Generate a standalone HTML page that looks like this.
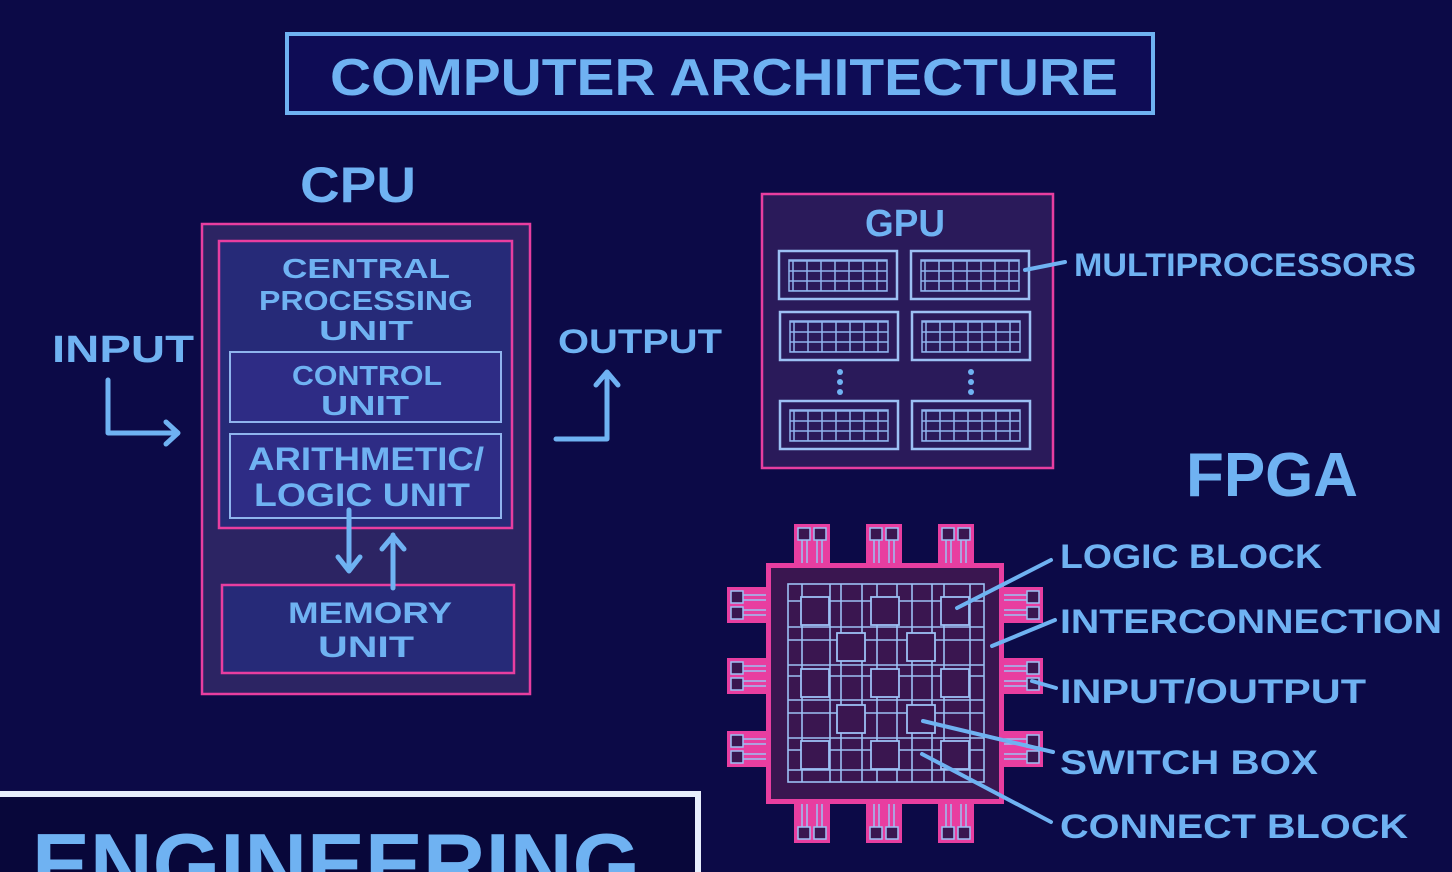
<!DOCTYPE html>
<html><head><meta charset="utf-8"><style>
html,body{margin:0;padding:0;background:#0c0a47;width:1452px;height:872px;overflow:hidden;}
svg{display:block}
text{font-family:"Liberation Sans",sans-serif;font-weight:bold;fill:#6fb2f2;}
</style></head><body>
<svg width="1452" height="872" viewBox="0 0 1452 872" xmlns="http://www.w3.org/2000/svg">
<defs>
<pattern id="cells" width="14" height="10" patternUnits="userSpaceOnUse">
<rect x="0" y="0" width="14" height="10" fill="none" stroke="#8fb4ee" stroke-width="1.5"/>
</pattern>
<g id="mp">
<rect x="0" y="0" width="118" height="48" fill="#2a1a5a" stroke="#9cc0f4" stroke-width="2.5"/>
<rect x="10" y="9" width="98" height="31" fill="url(#cells)" stroke="#8fb4ee" stroke-width="1.5"/>
</g>
<g id="padV"><rect x="-18" y="0" width="36" height="42" fill="#e83ea0"/><rect x="-14" y="4" width="12" height="12" fill="#3a1650" stroke="#9cc0f4" stroke-width="1.5"/><rect x="2" y="4" width="12" height="12" fill="#3a1650" stroke="#9cc0f4" stroke-width="1.5"/><line x1="-10" y1="16" x2="-10" y2="42" stroke="#9cc0f4" stroke-width="1.5"/><line x1="-5" y1="16" x2="-5" y2="42" stroke="#9cc0f4" stroke-width="1.5"/><line x1="5" y1="16" x2="5" y2="42" stroke="#9cc0f4" stroke-width="1.5"/><line x1="10" y1="16" x2="10" y2="42" stroke="#9cc0f4" stroke-width="1.5"/></g>
</defs>
<rect width="1452" height="872" fill="#0c0a47"/>
<rect x="287" y="34" width="866" height="79" fill="#0e0c55" stroke="#6fb2f2" stroke-width="4"/>
<text x="330" y="95" font-size="52" textLength="788" lengthAdjust="spacingAndGlyphs">COMPUTER ARCHITECTURE</text>
<text x="300" y="202" font-size="50" textLength="116" lengthAdjust="spacingAndGlyphs">CPU</text>
<rect x="202" y="224" width="328" height="470" fill="#2c2463" stroke="#e83ea0" stroke-width="2.5"/>
<rect x="219" y="241" width="293" height="287" fill="#262a78" stroke="#e83ea0" stroke-width="2.5"/>
<text x="366" y="278" font-size="28" text-anchor="middle" textLength="168" lengthAdjust="spacingAndGlyphs">CENTRAL</text>
<text x="366" y="310" font-size="28" text-anchor="middle" textLength="214" lengthAdjust="spacingAndGlyphs">PROCESSING</text>
<text x="366" y="340" font-size="28" text-anchor="middle" textLength="94" lengthAdjust="spacingAndGlyphs">UNIT</text>
<rect x="230" y="352" width="271" height="70" fill="#2e2c85" stroke="#8fb4ee" stroke-width="2"/>
<text x="367" y="385" font-size="28" text-anchor="middle" textLength="150" lengthAdjust="spacingAndGlyphs">CONTROL</text>
<text x="365" y="415" font-size="28" text-anchor="middle" textLength="88" lengthAdjust="spacingAndGlyphs">UNIT</text>
<rect x="230" y="434" width="271" height="84" fill="#2e2c85" stroke="#8fb4ee" stroke-width="2"/>
<text x="366" y="470" font-size="32" text-anchor="middle" textLength="236" lengthAdjust="spacingAndGlyphs">ARITHMETIC/</text>
<text x="362" y="506" font-size="32" text-anchor="middle" textLength="216" lengthAdjust="spacingAndGlyphs">LOGIC UNIT</text>
<rect x="222" y="585" width="292" height="88" fill="#262a78" stroke="#e83ea0" stroke-width="2.5"/>
<text x="370" y="623" font-size="30" text-anchor="middle" textLength="164" lengthAdjust="spacingAndGlyphs">MEMORY</text>
<text x="366" y="657" font-size="30" text-anchor="middle" textLength="96" lengthAdjust="spacingAndGlyphs">UNIT</text>
<g stroke="#6fb2f2" stroke-width="5" fill="none" stroke-linecap="round" stroke-linejoin="round">
<path d="M349 510 V570 M338 557 L349 571 L360 557"/>
<path d="M393 588 V535 M382 549 L393 536 L404 549"/>
<path d="M108 380 V433 H177 M166 422 L178 433 L166 444"/>
<path d="M556 439 H607 V373 M596 385 L607 372 L618 385"/>
</g>
<text x="52" y="362" font-size="38" textLength="142" lengthAdjust="spacingAndGlyphs">INPUT</text>
<text x="558" y="353" font-size="34" textLength="164" lengthAdjust="spacingAndGlyphs">OUTPUT</text>
<rect x="762" y="194" width="291" height="274" fill="#2a1a5a" stroke="#e83ea0" stroke-width="2.5"/>
<text x="905" y="236" font-size="38" text-anchor="middle" textLength="80" lengthAdjust="spacingAndGlyphs">GPU</text>
<use href="#mp" x="779" y="251"/><use href="#mp" x="911" y="251"/>
<use href="#mp" x="780" y="312"/><use href="#mp" x="912" y="312"/>
<use href="#mp" x="780" y="401"/><use href="#mp" x="912" y="401"/>
<g fill="#6fb2f2"><circle cx="840" cy="372" r="3"/><circle cx="840" cy="382" r="3"/><circle cx="840" cy="392" r="3"/><circle cx="971" cy="372" r="3"/><circle cx="971" cy="382" r="3"/><circle cx="971" cy="392" r="3"/></g>
<line x1="1025" y1="270" x2="1065" y2="262" stroke="#6fb2f2" stroke-width="4" stroke-linecap="round"/>
<text x="1074" y="276" font-size="32" textLength="342" lengthAdjust="spacingAndGlyphs">MULTIPROCESSORS</text>
<text x="1186" y="496" font-size="62" textLength="172" lengthAdjust="spacingAndGlyphs">FPGA</text>
<g>
<use href="#padV" x="812" y="524"/><use href="#padV" x="884" y="524"/><use href="#padV" x="956" y="524"/>
<g transform="translate(0 1645) scale(1 -1)"><use href="#padV" x="812" y="802"/><use href="#padV" x="884" y="802"/><use href="#padV" x="956" y="802"/></g>
<g transform="translate(767 0) rotate(-90)"><use href="#padV" x="-605" y="-40"/><use href="#padV" x="-676" y="-40"/><use href="#padV" x="-749" y="-40"/></g>
<g transform="translate(1003 0) rotate(90)"><use href="#padV" x="605" y="-40"/><use href="#padV" x="676" y="-40"/><use href="#padV" x="749" y="-40"/></g>
<rect x="766" y="563" width="238" height="241" fill="#e83ea0"/>
<rect x="771" y="568" width="228" height="231" fill="#3a1650"/>
<g stroke="#9cc0f4" stroke-width="1.6" fill="none">
<rect x="788" y="584" width="196" height="198"/>
<path d="M788 601H984M788 627H984M788 640H984M788 665H984M788 676H984M788 700H984M788 713H984M788 738H984M788 750H984M788 770H984"/>
<path d="M802 584V782M830 584V782M841 584V782M862 584V782M877 584V782M897 584V782M912 584V782M932 584V782M944 584V782M970 584V782"/>
</g>
<g fill="#3a1650" stroke="#9cc0f4" stroke-width="1.8">
<rect x="801" y="597" width="28" height="28"/><rect x="871" y="597" width="28" height="28"/><rect x="941" y="597" width="28" height="28"/>
<rect x="801" y="669" width="28" height="28"/><rect x="871" y="669" width="28" height="28"/><rect x="941" y="669" width="28" height="28"/>
<rect x="801" y="741" width="28" height="28"/><rect x="871" y="741" width="28" height="28"/><rect x="941" y="741" width="28" height="28"/>
<rect x="837" y="633" width="28" height="28"/><rect x="907" y="633" width="28" height="28"/>
<rect x="837" y="705" width="28" height="28"/><rect x="907" y="705" width="28" height="28"/>
</g>
</g>
<g stroke="#6fb2f2" stroke-width="4" stroke-linecap="round">
<line x1="957" y1="608" x2="1051" y2="560"/>
<line x1="992" y1="646" x2="1055" y2="620"/>
<line x1="1032" y1="681" x2="1056" y2="688"/>
<line x1="923" y1="721" x2="1053" y2="752"/>
<line x1="922" y1="754" x2="1051" y2="822"/>
</g>
<text x="1060" y="568" font-size="34" textLength="262" lengthAdjust="spacingAndGlyphs">LOGIC BLOCK</text>
<text x="1060" y="633" font-size="34" textLength="382" lengthAdjust="spacingAndGlyphs">INTERCONNECTION</text>
<text x="1060" y="703" font-size="34" textLength="306" lengthAdjust="spacingAndGlyphs">INPUT/OUTPUT</text>
<text x="1060" y="774" font-size="34" textLength="258" lengthAdjust="spacingAndGlyphs">SWITCH BOX</text>
<text x="1060" y="838" font-size="34" textLength="348" lengthAdjust="spacingAndGlyphs">CONNECT BLOCK</text>
<rect x="-10" y="794" width="708" height="90" fill="#08073a" stroke="#e8eefc" stroke-width="6"/>
<text x="32" y="895" font-size="88" textLength="608" lengthAdjust="spacingAndGlyphs" fill="#8fc0f4">ENGINEERING</text>
</svg>
</body></html>
